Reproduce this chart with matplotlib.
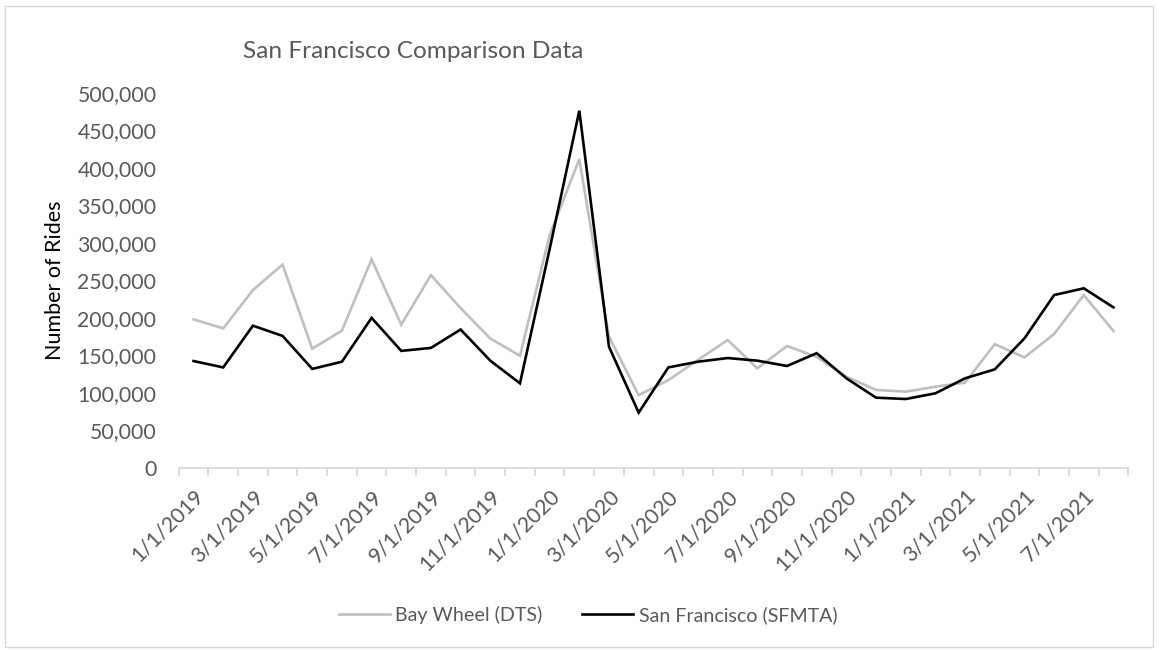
import matplotlib
matplotlib.use("Agg")
import matplotlib.pyplot as plt
from matplotlib.patches import Rectangle

plt.rcParams['font.family'] = ['Lato', 'DejaVu Sans']

months = ["1/1/2019", "2/1/2019", "3/1/2019", "4/1/2019", "5/1/2019", "6/1/2019",
          "7/1/2019", "8/1/2019", "9/1/2019", "10/1/2019", "11/1/2019", "12/1/2019",
          "1/1/2020", "2/1/2020", "3/1/2020", "4/1/2020", "5/1/2020", "6/1/2020",
          "7/1/2020", "8/1/2020", "9/1/2020", "10/1/2020", "11/1/2020", "12/1/2020",
          "1/1/2021", "2/1/2021", "3/1/2021", "4/1/2021", "5/1/2021", "6/1/2021",
          "7/1/2021", "8/1/2021"]

bay_wheel = [198000, 186000, 237000, 271000, 159000, 183000, 278000, 191000,
             257000, 213000, 172500, 149600, 310000, 411500, 175000, 97000,
             117000, 144000, 170500, 132800, 162500, 148000, 121600, 104000,
             101700, 108300, 113700, 165000, 147400, 178500, 230400, 182500]

sfmta = [142500, 134000, 189600, 176000, 132000, 141600, 200000, 156000,
         160000, 184500, 143000, 112800, 291700, 476000, 161600, 73700,
         134000, 141600, 146500, 143000, 135900, 153000, 119500, 93700,
         91900, 99500, 119500, 131400, 172700, 230400, 239400, 214000]

W, H = 1159, 652
fig = plt.figure(figsize=(W / 100, H / 100), dpi=100)

left_px, right_px = 178.7, 1128.3
bottom_px, top_px = 468.0, 92.7
ax = fig.add_axes([left_px / W, 1 - bottom_px / H,
                   (right_px - left_px) / W, (bottom_px - top_px) / H])

x = list(range(len(months)))
l1, = ax.plot(x, bay_wheel, color="#BFBFBF", lw=1.9, solid_joinstyle="miter",
              label="Bay Wheel (DTS)")
l2, = ax.plot(x, sfmta, color="#000000", lw=1.9, solid_joinstyle="miter",
              label="San Francisco (SFMTA)")

ax.set_xlim(-0.5, len(months) - 0.5)
ax.set_ylim(0, 500000)

yt = list(range(0, 500001, 50000))
ax.set_yticks(yt)
ax.set_yticklabels([f"{v:,}" for v in yt], color="#595959", fontsize=15.3)
ax.tick_params(axis="y", length=0, pad=16)

ax.set_xticks([i - 0.5 for i in range(len(months) + 1)])
ax.set_xticklabels([])
ax.tick_params(axis="x", which="major", length=6, width=1.3, color="#D9D9D9")
ax.set_xticks(x[::2], minor=True)
ax.set_xticklabels(months[::2], minor=True, rotation=45, ha="right",
                   va="top", rotation_mode="anchor", color="#595959", fontsize=15.3)
ax.tick_params(axis="x", which="minor", length=0, pad=13)

for s in ["top", "right", "left"]:
    ax.spines[s].set_visible(False)
ax.spines["bottom"].set_color("#D9D9D9")
ax.spines["bottom"].set_linewidth(1.3)

ax.set_ylabel("Number of Rides", fontsize=15.5, color="#000000")
ax.yaxis.set_label_coords((55 - left_px) / (right_px - left_px), 0.5)
ax.yaxis.label.set_va("center")

fig.text(243 / W, 1 - 58 / H, "San Francisco Comparison Data", fontsize=17.6,
         color="#595959", ha="left", va="baseline")

leg = fig.legend(handles=[l1, l2], loc="center", bbox_to_anchor=(588 / W, 1 - 615 / H),
                 ncol=2, frameon=False, fontsize=14.1, handlelength=2.6,
                 columnspacing=2.0, handletextpad=0.3)
for t in leg.get_texts():
    t.set_color("#595959")

fig.patches.append(Rectangle((5 / W, 5 / H), 1148 / W, 641 / H, transform=fig.transFigure,
                             fill=False, edgecolor="#D9D9D9", lw=1.0))

fig.savefig("out.png", dpi=100, facecolor="white")
